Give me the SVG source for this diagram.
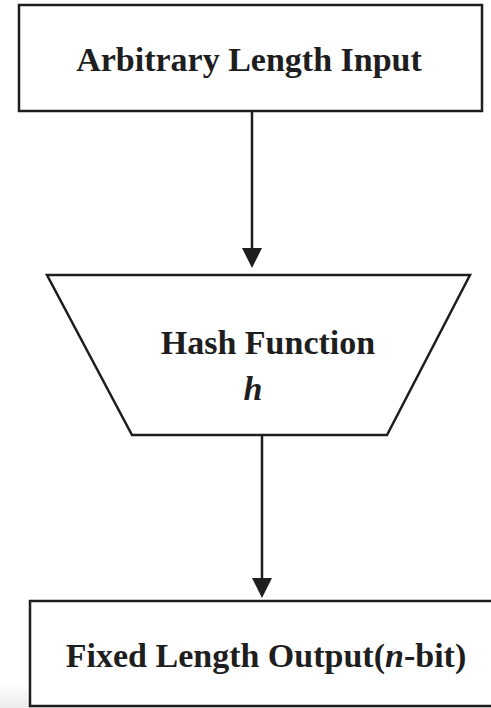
<svg xmlns="http://www.w3.org/2000/svg" width="491" height="708" viewBox="0 0 491 708">
  <defs>
    <style>
      .box { fill: #ffffff; stroke: #1e1e1e; stroke-width: 2.5; }
      .edge { stroke: #1e1e1e; stroke-width: 2.5; fill: none; }
      .label { font-family: "Liberation Serif", "Times New Roman", serif; font-weight: bold; font-size: 34px; fill: #1e1e1e; text-anchor: middle; }
      .var { font-style: italic; }
    </style>
    <marker id="arrow" viewBox="0 0 20 20" refX="10" refY="20" markerUnits="userSpaceOnUse" markerWidth="20" markerHeight="20" orient="auto-start-reverse">
      <path d="M0,0 L20,0 L10,20 Z" fill="#1e1e1e" transform="rotate(-90 10 10)"/>
    </marker>
    <linearGradient id="shade" x1="0" y1="0" x2="0" y2="1">
      <stop offset="0" stop-color="#ffffff"/>
      <stop offset="1" stop-color="#ebebeb"/>
    </linearGradient>
  </defs>
  <rect x="0" y="0" width="491" height="708" fill="#ffffff"/>
  <rect x="0" y="684" width="491" height="24" fill="url(#shade)"/>

  <g id="connectors">
    <line class="edge" x1="252" y1="111" x2="252" y2="250"/>
    <path d="M242,248 L262,248 L252,268 Z" fill="#1e1e1e"/>
    <line class="edge" x1="262" y1="436" x2="262" y2="580"/>
    <path d="M252,578 L272,578 L262,598 Z" fill="#1e1e1e"/>
  </g>

  <g id="input">
    <rect class="box" x="19" y="5" width="463" height="106"/>
    <text class="label" x="249" y="71">Arbitrary Length Input</text>
  </g>

  <g id="hash">
    <polygon class="box" points="47,275 470,275 387,435 132,435"/>
    <text class="label" x="268" y="354">Hash Function</text>
    <text class="label var" x="253" y="400">h</text>
  </g>

  <g id="output">
    <rect class="box" x="30" y="601" width="470" height="105"/>
    <text class="label" x="266" y="667">Fixed Length Output(<tspan class="var">n</tspan>-bit)</text>
  </g>
</svg>
